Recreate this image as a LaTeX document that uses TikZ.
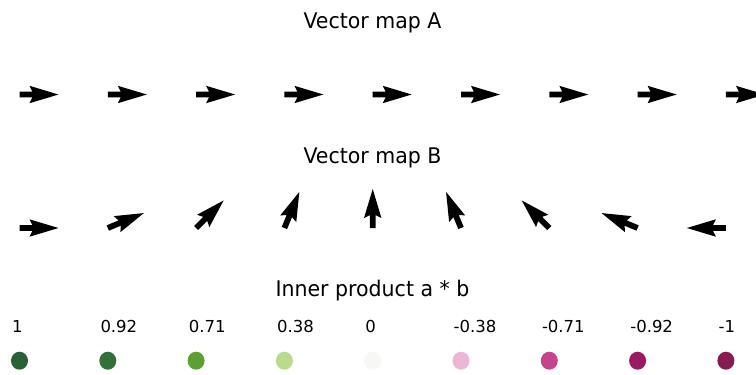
\documentclass[tikz,border=0pt]{standalone}
\usepackage{fontspec}
\setmainfont{DejaVu Sans}
\begin{document}
\begin{tikzpicture}[x=1pt,y=-1pt,
  titletext/.style={font=\fontsize{20.5}{24}\selectfont, anchor=base, inner sep=0pt, yscale=1.05, transform shape},
  valtext/.style={font=\fontsize{16.5}{19}\selectfont, anchor=base west, inner sep=0pt},
  quiv/.pic={\fill[black] (0,-2.9) -- (12.9,-2.9) -- (10,-8.7) -- (39,0) -- (10,8.7) -- (12.9,2.9) -- (0,2.9) -- cycle;}]
\useasboundingbox (0,0) rectangle (756,375);
\clip (0,0) rectangle (756,375);
\fill[white] (0,0) rectangle (756,375);

% titles
\node[titletext] (ta) at (372.5,28.5) {Vector map A};
\node[titletext] (tb) at (372.5,163) {Vector map B};
\node[titletext] (tc) at (372.5,296.7) {Inner product a * b};

% colours of the inner product
\definecolor{ip1}{HTML}{296234}
\definecolor{ip2}{HTML}{32713A}
\definecolor{ip3}{HTML}{5C9F32}
\definecolor{ip4}{HTML}{B9DB8B}
\definecolor{ip5}{HTML}{F7F7F5}
\definecolor{ip6}{HTML}{EDB6D5}
\definecolor{ip7}{HTML}{C6448C}
\definecolor{ip8}{HTML}{9C1A61}
\definecolor{ip9}{HTML}{871C52}

\foreach \i/\ang/\val in {0/0/1, 1/22.5/0.92, 2/45/0.71, 3/67.5/0.38, 4/90/0,
                          5/112.5/-0.38, 6/135/-0.71, 7/157.5/-0.92, 8/180/-1} {
  \pgfmathsetmacro{\cx}{19.5+88.3*\i}
  \pgfmathtruncatemacro{\k}{\i+1}
  % map A: all vectors point right
  \pic at (\cx,94.5) {quiv};
  % map B: vectors turning from right to left
  \pic[rotate=\ang] at (\cx,228) {quiv};
  % inner product value and colour dot
  \node[valtext] (v\k) at (\cx-7.5,332.7) {\val};
  \fill[ip\k] (\cx,360.7) ellipse [x radius=8.5, y radius=9];
}
\end{tikzpicture}
\end{document}
